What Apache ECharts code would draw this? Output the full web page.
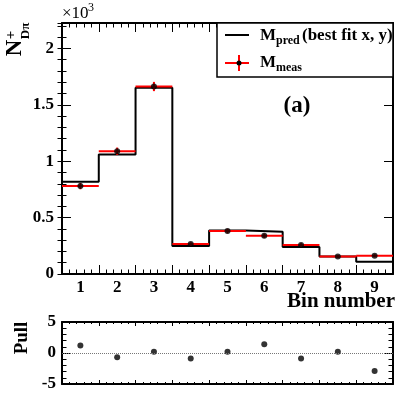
<!DOCTYPE html>
<html>
<head>
<meta charset="utf-8">
<script src="https://cdn.jsdelivr.net/npm/echarts@6/dist/echarts.min.js"></script>
<style>
  html, body { margin: 0; padding: 0; background: #fff; }
  #main { width: 415px; height: 393px; }
</style>
</head>
<body>
<div id="main"></div>
<script>
  // bin labels
  var bins = ['1', '2', '3', '4', '5', '6', '7', '8', '9'];
  // predicted yields (best fit x, y)
  var predVals = [817, 1059, 1650, 248, 385, 375, 239, 156, 109];
  // measured yields and their errors
  var measVals = [779, 1088, 1662, 265, 381, 339, 257, 156, 162];
  var measErr = [28, 33, 41, 16, 20, 18, 16, 12, 13];
  // pulls
  var pullVals = [1.2, -0.7, 0.2, -0.9, 0.2, 1.4, -0.9, 0.2, -2.9];

  var serif = '"Liberation Serif", "DejaVu Serif", serif';
  var chart = echarts.init(document.getElementById('main'));

  // step histogram points (bin edges)
  var predStep = predVals.map(function (v, i) { return [i, v]; });
  predStep.push([predVals.length, predVals[predVals.length - 1]]);

  var measData = measVals.map(function (v, i) { return [i + 0.5, v, measErr[i]]; });
  var pullData = pullVals.map(function (v, i) { return [i + 0.5, v]; });

  var tickLabel = { fontFamily: serif, fontWeight: 'bold', fontSize: 17, color: '#000' };
  var frameLine = { show: true, onZero: false, lineStyle: { color: '#000', width: 2 } };

  function xAx(grid, pos, major, minor, line) {
    return {
      type: 'value', gridIndex: grid, position: pos, min: 0, max: 9, interval: 1,
      axisLine: line ? frameLine : { show: false },
      axisTick: { inside: true, length: major, lineStyle: { color: '#000' } },
      minorTick: { show: true, splitNumber: 5, length: minor, lineStyle: { color: '#000' } },
      axisLabel: { show: false }, splitLine: { show: false }
    };
  }

  var option = {
    animation: false,
    backgroundColor: '#fff',
    grid: [
      { left: 62, right: 22, top: 23, height: 251, outerBoundsMode: 'none' },
      { left: 62, right: 22, top: 322, height: 62, outerBoundsMode: 'none' }
    ],
    xAxis: [
      xAx(0, 'bottom', 9, 4.5, true),
      {
        type: 'category', gridIndex: 0, position: 'bottom', offset: 0, data: bins,
        axisLine: { show: false }, axisTick: { show: false },
        axisLabel: Object.assign({ margin: 5 }, tickLabel)
      },
      xAx(0, 'top', 9, 4.5, true),
      xAx(1, 'bottom', 4, 2, true),
      xAx(1, 'top', 4, 2, true)
    ],
    yAxis: [
      {
        type: 'value', gridIndex: 0, position: 'left', min: 0, max: 2225, interval: 500,
        axisLine: frameLine,
        axisTick: { inside: true, length: 9, lineStyle: { color: '#000' } },
        axisLabel: Object.assign({
          margin: 8,
          formatter: function (v) { return v % 500 === 0 ? String(v / 1000) : ''; }
        }, tickLabel),
        splitLine: { show: false }
      },
      {
        type: 'value', gridIndex: 0, position: 'left', offset: 0, min: 0, max: 2225, interval: 100,
        axisLine: { show: false },
        axisTick: { inside: true, length: 4.5, lineStyle: { color: '#000' } },
        axisLabel: { show: false }, splitLine: { show: false }
      },
      {
        type: 'value', gridIndex: 0, position: 'right', offset: 0, min: 0, max: 2225, interval: 500,
        axisLine: frameLine,
        axisTick: { inside: true, length: 9, lineStyle: { color: '#000' } },
        axisLabel: { show: false }, splitLine: { show: false }
      },
      {
        type: 'value', gridIndex: 0, position: 'right', offset: 0, min: 0, max: 2225, interval: 100,
        axisLine: { show: false },
        axisTick: { inside: true, length: 4.5, lineStyle: { color: '#000' } },
        axisLabel: { show: false }, splitLine: { show: false }
      },
      {
        type: 'value', gridIndex: 1, position: 'left', min: -5, max: 5, interval: 5,
        axisLine: frameLine,
        axisTick: { inside: true, length: 9, lineStyle: { color: '#000' } },
        minorTick: { show: true, splitNumber: 5, length: 4.5, lineStyle: { color: '#000' } },
        axisLabel: Object.assign({ margin: 6 }, tickLabel),
        splitLine: { show: false }
      },
      {
        type: 'value', gridIndex: 1, position: 'right', offset: 0, min: -5, max: 5, interval: 5,
        axisLine: frameLine,
        axisTick: { inside: true, length: 9, lineStyle: { color: '#000' } },
        minorTick: { show: true, splitNumber: 5, length: 4.5, lineStyle: { color: '#000' } },
        axisLabel: { show: false }, splitLine: { show: false }
      }
    ],
    series: [
      {
        name: 'pred', type: 'line', step: 'end', xAxisIndex: 0, yAxisIndex: 0,
        data: predStep, symbol: 'none',
        lineStyle: { color: '#000', width: 2 }, z: 2
      },
      {
        name: 'meas', type: 'custom', xAxisIndex: 0, yAxisIndex: 0,
        data: measData, encode: { x: 0, y: 1 }, z: 3,
        renderItem: function (params, api) {
          var x = api.value(0), v = api.value(1), e = api.value(2);
          var l = api.coord([x - 0.5, v]), r = api.coord([x + 0.5, v]);
          var t = api.coord([x, v + e]), b = api.coord([x, v - e]);
          return {
            type: 'group',
            children: [
              { type: 'line', shape: { x1: l[0], y1: l[1], x2: r[0], y2: r[1] }, style: { stroke: '#ff0000', lineWidth: 2 } },
              { type: 'line', shape: { x1: t[0], y1: t[1], x2: b[0], y2: b[1] }, style: { stroke: '#ff0000', lineWidth: 2 } }
            ]
          };
        }
      },
      {
        name: 'measPts', type: 'scatter', xAxisIndex: 0, yAxisIndex: 0,
        data: measData.map(function (d) { return [d[0], d[1]]; }),
        symbol: 'circle', symbolSize: 6, itemStyle: { color: '#000' }, z: 4
      },
      {
        name: 'pull', type: 'scatter', xAxisIndex: 3, yAxisIndex: 4,
        data: pullData, symbol: 'circle', symbolSize: 6, itemStyle: { color: '#000' }, z: 4,
        markLine: {
          silent: true, symbol: 'none', label: { show: false },
          lineStyle: { color: '#777', type: 'dotted', width: 1 },
          data: [{ yAxis: 0 }]
        }
      }
    ],
    graphic: [
      // x10^3
      { type: 'text', x: 62, y: 14, style: { text: '\u00d710', font: '17px ' + serif, fill: '#000', align: 'left', verticalAlign: 'middle' } },
      { type: 'text', x: 88, y: 8, style: { text: '3', font: '12px ' + serif, fill: '#000', align: 'left', verticalAlign: 'middle' } },
      // y title  N^+_{Dpi}
      { type: 'text', x: 15, y: 48, rotation: Math.PI / 2, style: { text: 'N', font: 'bold 23px ' + serif, fill: '#000', align: 'center', verticalAlign: 'middle' } },
      { type: 'text', x: 11, y: 35, rotation: Math.PI / 2, style: { text: '+', font: 'bold 15px ' + serif, fill: '#000', align: 'center', verticalAlign: 'middle' } },
      { type: 'text', x: 26, y: 31, rotation: Math.PI / 2, style: { text: 'D\u03c0', font: 'bold 13px ' + serif, fill: '#000', align: 'center', verticalAlign: 'middle' } },
      // pull title
      { type: 'text', x: 22, y: 338, rotation: Math.PI / 2, style: { text: 'Pull', font: 'bold 19px ' + serif, fill: '#000', align: 'center', verticalAlign: 'middle' } },
      // x title
      { type: 'text', x: 395, y: 302, style: { text: 'Bin number', font: 'bold 21px ' + serif, fill: '#000', align: 'right', verticalAlign: 'middle' } },
      // (a)
      { type: 'text', x: 297, y: 106, style: { text: '(a)', font: 'bold 23px ' + serif, fill: '#000', align: 'center', verticalAlign: 'middle' } },
      // legend box
      { type: 'rect', shape: { x: 217, y: 23, width: 176, height: 54 }, style: { fill: '#fff', stroke: '#000', lineWidth: 1.5 }, z: 10 },
      { type: 'line', shape: { x1: 225, y1: 35, x2: 249, y2: 35 }, style: { stroke: '#000', lineWidth: 2 }, z: 11 },
      { type: 'text', x: 260, y: 36, z: 11, style: { text: 'M', font: 'bold 17px ' + serif, fill: '#000', align: 'left', verticalAlign: 'middle' } },
      { type: 'text', x: 276, y: 41, z: 11, style: { text: 'pred', font: 'bold 12px ' + serif, fill: '#000', align: 'left', verticalAlign: 'middle' } },
      { type: 'text', x: 302, y: 36, z: 11, style: { text: '(best fit x, y)', font: 'bold 17px ' + serif, fill: '#000', align: 'left', verticalAlign: 'middle' } },
      { type: 'line', shape: { x1: 225, y1: 63, x2: 249, y2: 63 }, style: { stroke: '#ff0000', lineWidth: 2 }, z: 11 },
      { type: 'line', shape: { x1: 239, y1: 55, x2: 239, y2: 71 }, style: { stroke: '#ff0000', lineWidth: 2 }, z: 11 },
      { type: 'circle', shape: { cx: 239, cy: 63, r: 2.5 }, style: { fill: '#000' }, z: 12 },
      { type: 'text', x: 260, y: 63, z: 11, style: { text: 'M', font: 'bold 17px ' + serif, fill: '#000', align: 'left', verticalAlign: 'middle' } },
      { type: 'text', x: 276, y: 68, z: 11, style: { text: 'meas', font: 'bold 12px ' + serif, fill: '#000', align: 'left', verticalAlign: 'middle' } }
    ]
  };

  chart.setOption(option);
</script>
</body>
</html>
